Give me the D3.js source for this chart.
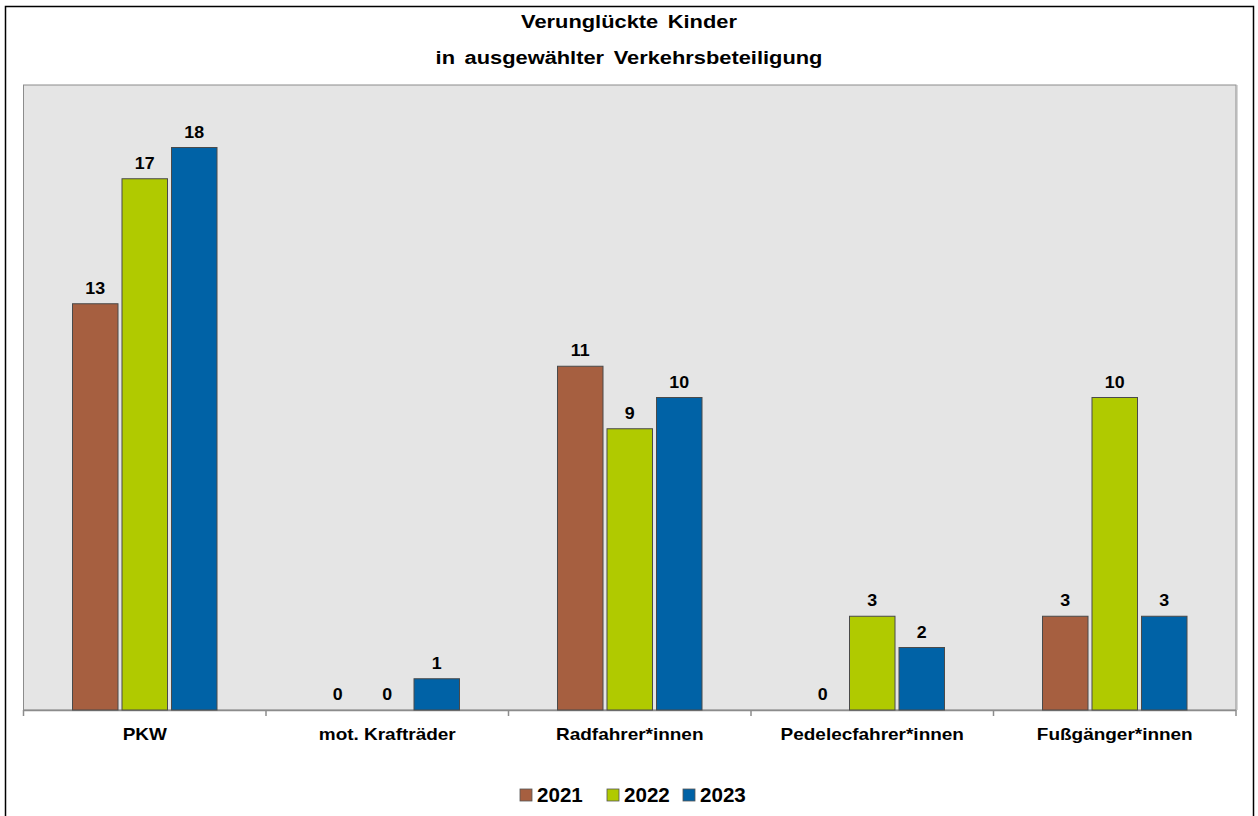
<!DOCTYPE html>
<html><head><meta charset="utf-8">
<script src="https://cdn.jsdelivr.net/npm/d3@7"></script>
<style>body{margin:0;background:#fff}svg text{font-family:"Liberation Sans",Arial,sans-serif;font-weight:bold;fill:#000}</style>
</head><body><svg id="c" width="1258" height="816"></svg>
<script>
const categories = ["PKW","mot. Krafträder","Radfahrer*innen","Pedelecfahrer*innen","Fußgänger*innen"];
const years = ["2021","2022","2023"];
const v2021 = [13,0,11,0,3];
const v2022 = [17,0,9,3,10];
const v2023 = [18,1,10,2,3];
const series = [v2021,v2022,v2023];
const colors = ["#A65F40","#B0CA00","#0062A6"];
const titleLines = ["Verunglückte Kinder","in ausgewählter Verkehrsbeteiligung"];

const SX = 1.15;
const svg = d3.select("#c");
function txt(x,y,size,s,anchor,sx){
  return svg.append("text").attr("transform",`translate(${x},${y}) scale(${sx||SX},1)`)
    .attr("text-anchor",anchor||"middle").attr("font-size",size).text(s);
}
svg.append("rect").attr("x",5.5).attr("y",6.5).attr("width",1248).attr("height",820).attr("fill","#fff").attr("stroke","#000").attr("stroke-width",1.5);

const L=23.5,R=1236,T=85,B=710;
svg.append("rect").attr("x",L).attr("y",T).attr("width",R-L).attr("height",B-T).attr("fill","#e5e5e5").attr("stroke","#8c8c8c").attr("stroke-width",1);
svg.append("line").attr("x1",R+1).attr("x2",R+1).attr("y1",T).attr("y2",B).attr("stroke","#b0b0b0");

txt(629,28,19,titleLines[0]).style("word-spacing","3px");
txt(629,64,19,titleLines[1]).style("word-spacing","3px");

const x = d3.scaleBand().domain(categories).range([L,R]);
const y = d3.scaleLinear().domain([0,20]).range([B,T]);
const bw = 45.5, step = 49.5;

const ax = svg.append("g").attr("transform",`translate(0,${B})`).call(d3.axisBottom(x).tickSize(0));
ax.select(".domain").remove();
ax.selectAll("text").remove();
svg.append("line").attr("x1",L).attr("x2",R).attr("y1",B+0.5).attr("y2",B+0.5).attr("stroke","#8c8c8c").attr("stroke-width",1.5);
const bounds = d3.range(categories.length+1).map(i=>L+i*x.step());
svg.selectAll(".tk").data(bounds).enter().append("line").attr("x1",d=>d).attr("x2",d=>d).attr("y1",B).attr("y2",B+6).attr("stroke","#8c8c8c").attr("stroke-width",1.5);

categories.forEach(c=>txt(x(c)+x.bandwidth()/2,B+30,16.5,c));

series.forEach((s,si)=>{
  categories.forEach((c,ci)=>{
    const cx = x(c)+x.bandwidth()/2 + (si-1)*step;
    const v = s[ci];
    if (v>0) svg.append("rect").attr("x",cx-bw/2).attr("y",y(v)).attr("width",bw).attr("height",y(0)-y(v)).attr("fill",colors[si]).attr("stroke","#4a4a4a").attr("stroke-width",1);
    txt(cx,y(v)-10,16.5,v,"middle",1.08);
  });
});

const lx = [520,607,683];
years.forEach((yr,i)=>{
  svg.append("rect").attr("x",lx[i]).attr("y",789).attr("width",12).attr("height",12).attr("fill",colors[i]).attr("stroke","#555").attr("stroke-width",0.8);
  txt(lx[i]+17,802,20,yr,"start",1.03);
});
</script></body></html>
